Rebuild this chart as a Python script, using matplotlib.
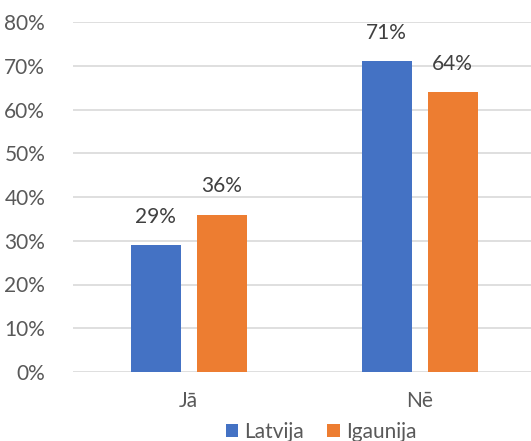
import matplotlib
matplotlib.use("Agg")
import matplotlib.pyplot as plt
import numpy as np

categories = ["Jā", "Nē"]
series_names = ["Latvija", "Igaunija"]
latvija = [0.29, 0.71]
igaunija = [0.36, 0.64]
yticks = [0, 0.1, 0.2, 0.3, 0.4, 0.5, 0.6, 0.7, 0.8]

plt.rcParams['font.family'] = ['Lato', 'DejaVu Sans']
txt = '#595959'
W, H = 531, 441
fig = plt.figure(figsize=(W/100, H/100), dpi=100)
ax = fig.add_axes([73/W, (H-372)/H, 462/W, 350/H])

x = np.arange(len(categories))
bw = 50/231
off = 33/231
colors = ['#4472C4', '#ED7D31']
for vals, o, c, name in [(latvija, -off, colors[0], series_names[0]), (igaunija, off, colors[1], series_names[1])]:
    bars = ax.bar(x + o, vals, bw, color=c, label=name, zorder=3)
    for b, v in zip(bars, vals):
        ax.annotate(f"{round(v*100)}%", (b.get_x()+b.get_width()/2, v), xytext=(0, 13),
                    textcoords='offset points', ha='center', va='bottom', fontsize=15, color='#404040')

ax.set_xlim(-0.5, 1.5)
ax.set_ylim(0, 0.8)
ax.set_yticks(yticks)
ax.set_yticklabels([f"{int(round(t*100))}%" for t in yticks])
ax.set_xticks(x)
ax.set_xticklabels(categories)
ax.yaxis.grid(True, color='#D9D9D9', linewidth=1.2, zorder=0)
ax.set_axisbelow(True)
for s in ax.spines.values():
    s.set_visible(False)
ax.tick_params(axis='both', length=0, colors=txt, labelsize=15)
ax.tick_params(axis='y', pad=20)
ax.tick_params(axis='x', pad=14)

fig.legend(loc='center', bbox_to_anchor=(321/W, (H-432)/H), ncol=2, frameon=False,
           fontsize=15, handlelength=0.6, handleheight=0.6, handletextpad=0.3, columnspacing=1.1,
           labelcolor=txt)
fig.savefig("out.png", dpi=100)
